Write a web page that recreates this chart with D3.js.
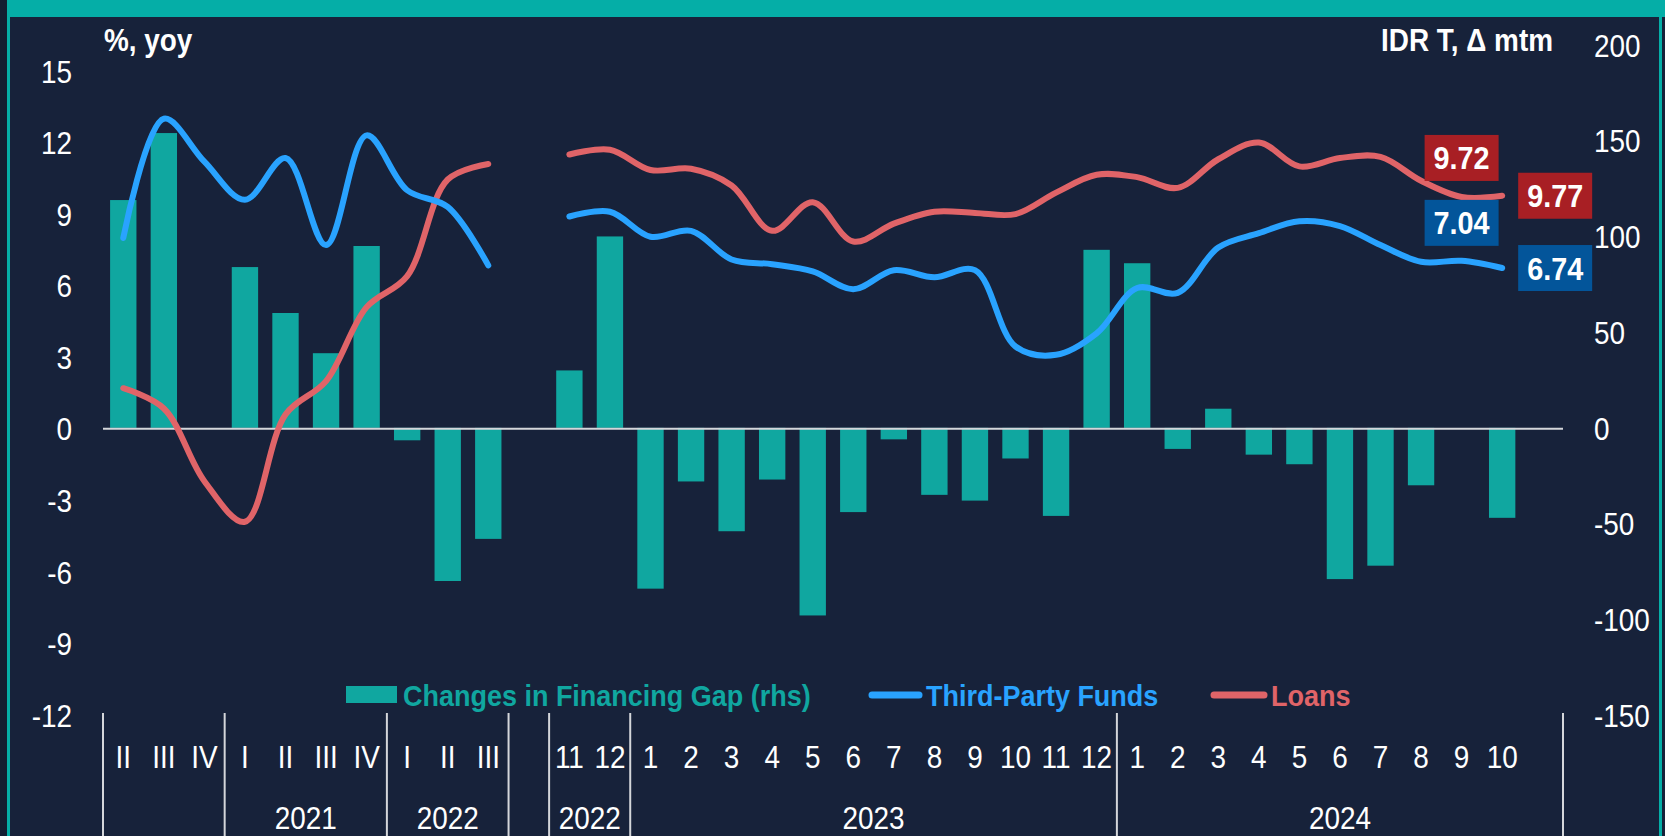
<!DOCTYPE html>
<html><head><meta charset="utf-8">
<script src="https://cdn.jsdelivr.net/npm/d3@7"></script>
<style>
html,body{margin:0;padding:0;background:#17223a;overflow:hidden;}
svg{display:block;}
text{font-family:"Liberation Sans",Arial,sans-serif;}
</style></head><body>
<svg id="chart" width="1665" height="836"></svg>
<script>
// ---------------- data ----------------
const periodLabels = ["II","III","IV","I","II","III","IV","I","II","III","",
  "11","12","1","2","3","4","5","6","7","8","9","10","11","12",
  "1","2","3","4","5","6","7","8","9","10",""];
const groupLabels = ["","2021","2022","","2022","2023","2024"];
const groupSizes  = [3,4,3,1,2,12,11];

// Changes in Financing Gap (rhs), IDR T, mtm
const financingGap = [119,154,null,84,60,39,95,-6.5,-80,-58,null,
  30,100,-84,-28,-54,-27,-98,-44,-6,-35,-38,-16,-46,93,
  86,-11,10,-14,-19,-79,-72,-30,null,-47,null];
// Third-Party Funds, %, yoy
const thirdPartyFunds = [8.0,13.0,11.2,9.6,11.35,7.7,12.3,10.0,9.3,6.85,null,
  8.9,9.1,8.05,8.3,7.1,6.9,6.6,5.85,6.65,6.35,6.65,3.45,3.1,4.0,
  5.9,5.7,7.6,8.2,8.7,8.5,7.7,7.0,7.04,6.74,null];
// Loans, %, yoy
const loans = [1.7,0.85,-2.2,-3.9,0.6,2.0,5.1,6.4,10.45,11.1,null,
  11.5,11.7,10.85,10.9,10.2,8.3,9.5,7.85,8.6,9.1,9.05,9.0,9.9,10.65,
  10.55,10.1,11.3,12.0,11.0,11.35,11.4,10.4,9.72,9.77,null];

const leftTicks  = [15,12,9,6,3,0,-3,-6,-9,-12];
const rightTicks = [200,150,100,50,0,-50,-100,-150];
const seriesNames = ["Changes in Financing Gap (rhs)","Third-Party Funds","Loans"];
const leftTitle = "%, yoy";
const rightTitle = "IDR T, \u0394 mtm";
const lastLabelIdx = [33,34];

// ---------------- style ----------------
const C = {bg:"#17223a", teal:"#05aea7", bar:"#10a7a0", blue:"#29a3ff", red:"#e06468",
  redBox:"#a81f24", blueBox:"#03559a", grid:"#d4d6da", text:"#ffffff"};
const SX = 0.9;   // narrow text look
const FS = 31;

const svg = d3.select("#chart");
svg.append("rect").attr("width",1665).attr("height",836).attr("fill",C.bg);
svg.append("rect").attr("x",0).attr("y",0).attr("width",7).attr("height",836).attr("fill","#131d31");
svg.append("rect").attr("x",7).attr("y",0).attr("width",3).attr("height",836).attr("fill",C.teal);
svg.append("rect").attr("x",7).attr("y",0).attr("width",1658).attr("height",17).attr("fill",C.teal);
svg.append("rect").attr("x",1659).attr("y",0).attr("width",3).attr("height",836).attr("fill",C.teal);

function ntext(parent, x0, y0, txt, opts) {
  const o = Object.assign({anchor:"start", size:FS, weight:"normal", fill:C.text, dy:null}, opts||{});
  const t = parent.append("text").attr("transform",`translate(${x0},${y0}) scale(${SX},1)`)
    .attr("text-anchor",o.anchor).attr("fill",o.fill)
    .style("font-size",o.size+"px").style("font-weight",o.weight).text(txt);
  if (o.dy) t.attr("dy",o.dy);
  return t;
}

const idx = d3.range(periodLabels.length);
const x = d3.scaleBand().domain(idx).range([103,1563]).paddingInner(0.35).paddingOuter(0.175);
const yL = d3.scaleLinear().domain([-12,15]).range([715,71]);
const yR = d3.scaleLinear().domain([-150,200]).range([715,45]);
const cx = i => x(i) + x.bandwidth()/2;
const slotLeft = i => x(i) - x.step()*x.paddingInner()/2;

// bars
svg.append("g").selectAll("rect").data(idx.filter(i => financingGap[i] != null)).join("rect")
  .attr("x", i => x(i)).attr("width", x.bandwidth())
  .attr("y", i => Math.min(yR(financingGap[i]), yR(0)))
  .attr("height", i => Math.abs(yR(financingGap[i]) - yR(0)))
  .attr("fill", C.bar);

// zero line
svg.append("line").attr("x1",slotLeft(0)).attr("x2",slotLeft(0)+x.step()*idx.length)
  .attr("y1",yL(0)).attr("y2",yL(0)).attr("stroke",C.grid).attr("stroke-width",2);

// lines
const line = vals => d3.line().defined(i => vals[i] != null)
  .x(i => cx(i)).y(i => yL(vals[i])).curve(d3.curveCatmullRom.alpha(0.5))(idx);
svg.append("path").attr("d", line(loans)).attr("fill","none").attr("stroke",C.red)
  .attr("stroke-width",6).attr("stroke-linecap","round").attr("stroke-linejoin","round");
svg.append("path").attr("d", line(thirdPartyFunds)).attr("fill","none").attr("stroke",C.blue)
  .attr("stroke-width",6).attr("stroke-linecap","round").attr("stroke-linejoin","round");

// axes
const gL = svg.append("g").attr("transform","translate(72,0)")
  .call(d3.axisLeft(yL).tickValues(leftTicks).tickSize(0).tickPadding(0).tickFormat(d => String(d)));
const gR = svg.append("g").attr("transform","translate(1594,0)")
  .call(d3.axisRight(yR).tickValues(rightTicks).tickSize(0).tickPadding(0).tickFormat(d => String(d)));
[gL,gR].forEach(g => {
  g.select(".domain").remove();
  g.selectAll("text").attr("fill",C.text).style("font-size",FS+"px").style("font-family",'"Liberation Sans",Arial,sans-serif')
    .attr("dy","0.36em").attr("x",0).attr("transform",`scale(${SX},1)`);
});

// titles
ntext(svg, 104, 51, leftTitle, {weight:"bold", size:31});
ntext(svg, 1553, 51, rightTitle, {weight:"bold", size:31, anchor:"end"});

// category labels
idx.forEach(i => ntext(svg, cx(i), 768, periodLabels[i], {anchor:"middle"}));

// group separators and year labels
let acc = 0;
const bounds = [0];
groupSizes.forEach(n => { acc += n; bounds.push(acc); });
svg.append("g").selectAll("line").data(bounds).join("line")
  .attr("x1", b => slotLeft(0) + b*x.step()).attr("x2", b => slotLeft(0) + b*x.step())
  .attr("y1",713).attr("y2",836).attr("stroke",C.grid).attr("stroke-width",2);
groupLabels.forEach((d,k) => ntext(svg, slotLeft(0) + (bounds[k]+bounds[k+1])/2*x.step(), 829, d, {anchor:"middle"}));

// legend
const lg = svg.append("g");
lg.append("rect").attr("x",346).attr("y",686).attr("width",51).attr("height",17).attr("fill",C.bar);
ntext(lg, 403, 706, seriesNames[0], {weight:"bold", size:30, fill:C.bar});
lg.append("line").attr("x1",872).attr("x2",919).attr("y1",695).attr("y2",695)
  .attr("stroke",C.blue).attr("stroke-width",7).attr("stroke-linecap","round");
ntext(lg, 926, 706, seriesNames[1], {weight:"bold", size:30, fill:C.blue});
lg.append("line").attr("x1",1214).attr("x2",1264).attr("y1",695).attr("y2",695)
  .attr("stroke",C.red).attr("stroke-width",7).attr("stroke-linecap","round");
ntext(lg, 1271, 706, seriesNames[2], {weight:"bold", size:30, fill:C.red});

// value boxes
function box(cxp, cyp, txt, fill) {
  const g = svg.append("g");
  g.append("rect").attr("x",cxp-37).attr("y",cyp-23).attr("width",74).attr("height",46).attr("fill",fill);
  ntext(g, cxp, cyp, txt, {anchor:"middle", size:32, weight:"bold", dy:"0.36em"});
}
const [iA, iB] = lastLabelIdx;
box(cx(iA), yL(loans[iA]) - 39, loans[iA].toFixed(2), C.redBox);
box(cx(iA), yL(thirdPartyFunds[iA]) - 38, thirdPartyFunds[iA].toFixed(2), C.blueBox);
box(cx(iB) + 53, yL(loans[iB]), loans[iB].toFixed(2), C.redBox);
box(cx(iB) + 53, yL(thirdPartyFunds[iB]), thirdPartyFunds[iB].toFixed(2), C.blueBox);
</script>
</body></html>
